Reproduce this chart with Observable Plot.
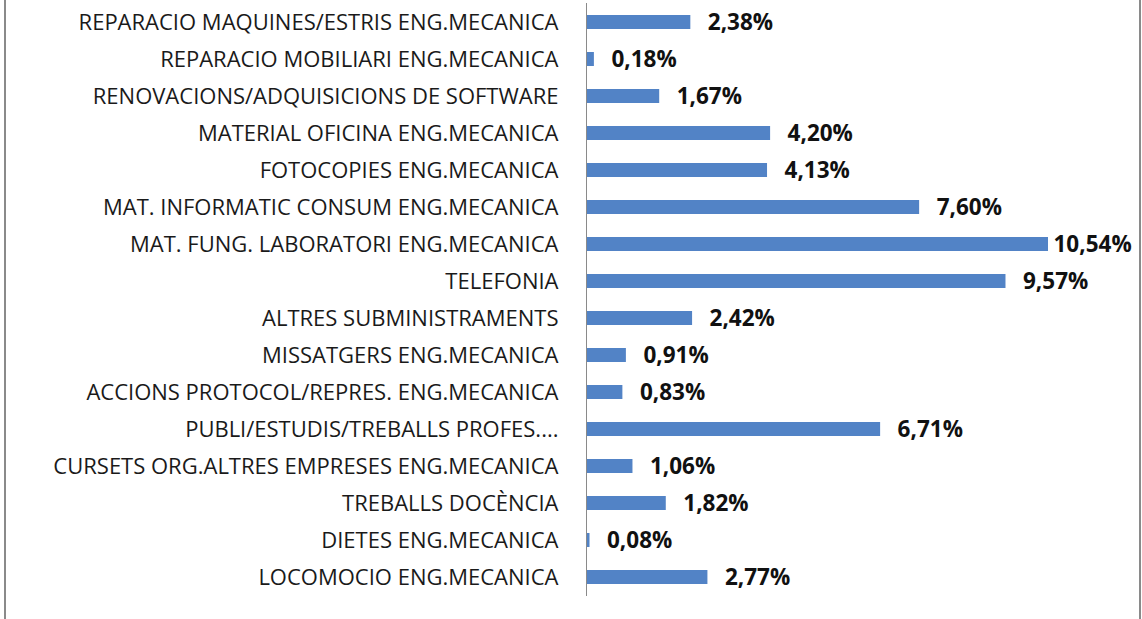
<!DOCTYPE html>
<html><head><meta charset="utf-8">
<script src="https://cdn.jsdelivr.net/npm/d3@7"></script>
<script src="https://cdn.jsdelivr.net/npm/@observablehq/plot@0.6"></script>
<style>
html,body{margin:0;padding:0;background:#fff;}
#wrap{position:relative;width:1142px;height:619px;overflow:hidden;}
#wrap:before{content:"";position:absolute;left:4px;top:0;bottom:0;border-left:2px solid #8a8a8a;}
#wrap:after{content:"";position:absolute;left:1139px;top:0;bottom:0;border-left:2px solid #8a8a8a;}
</style></head>
<body><div id="wrap"></div>
<script>
const categories = [
  "REPARACIO MAQUINES/ESTRIS ENG.MECANICA",
  "REPARACIO MOBILIARI ENG.MECANICA",
  "RENOVACIONS/ADQUISICIONS DE SOFTWARE",
  "MATERIAL OFICINA ENG.MECANICA",
  "FOTOCOPIES ENG.MECANICA",
  "MAT. INFORMATIC CONSUM ENG.MECANICA",
  "MAT. FUNG. LABORATORI ENG.MECANICA",
  "TELEFONIA",
  "ALTRES SUBMINISTRAMENTS",
  "MISSATGERS ENG.MECANICA",
  "ACCIONS PROTOCOL/REPRES. ENG.MECANICA",
  "PUBLI/ESTUDIS/TREBALLS PROFES....",
  "CURSETS ORG.ALTRES EMPRESES ENG.MECANICA",
  "TREBALLS DOCÈNCIA",
  "DIETES ENG.MECANICA",
  "LOCOMOCIO ENG.MECANICA"
];
const values = [2.38, 0.18, 1.67, 4.20, 4.13, 7.60, 10.54, 9.57, 2.42, 0.91, 0.83, 6.71, 1.06, 1.82, 0.08, 2.77];

const data = categories.map((c, i) => ({cat: c, v: values[i]}));
const fmt = v => v.toFixed(2).replace(".", ",") + "%";
const maxV = d3.max(values);

const chart = Plot.plot({
  width: 1142,
  height: 619,
  marginLeft: 586,
  marginRight: 30,
  marginTop: 3,
  marginBottom: 23,
  style: {fontFamily: "'Open Sans', sans-serif", background: "transparent"},
  x: {domain: [0, 12], axis: null},
  y: {domain: categories, paddingInner: 0.62, paddingOuter: 0.31, label: null},
  marks: [
    Plot.barX(data, {x: "v", y: "cat", fill: "#5283C6"}),
    Plot.ruleX([0], {stroke: "#8a8a8a", strokeWidth: 1}),
    Plot.axisY({tickSize: 0, tickPadding: 28, fontSize: 22, fill: "#1a1a1a", label: null}),
    Plot.text(data.filter(d => d.v !== maxV), {x: "v", y: "cat", text: d => fmt(d.v), textAnchor: "start", dx: 17, fontSize: 22.5, fontWeight: "bold", fill: "#111"}),
    Plot.text(data.filter(d => d.v === maxV), {x: "v", y: "cat", text: d => fmt(d.v), textAnchor: "start", dx: 5, fontSize: 22.5, fontWeight: "bold", fill: "#111"})
  ]
});
document.getElementById("wrap").appendChild(chart);
</script>
</body></html>
